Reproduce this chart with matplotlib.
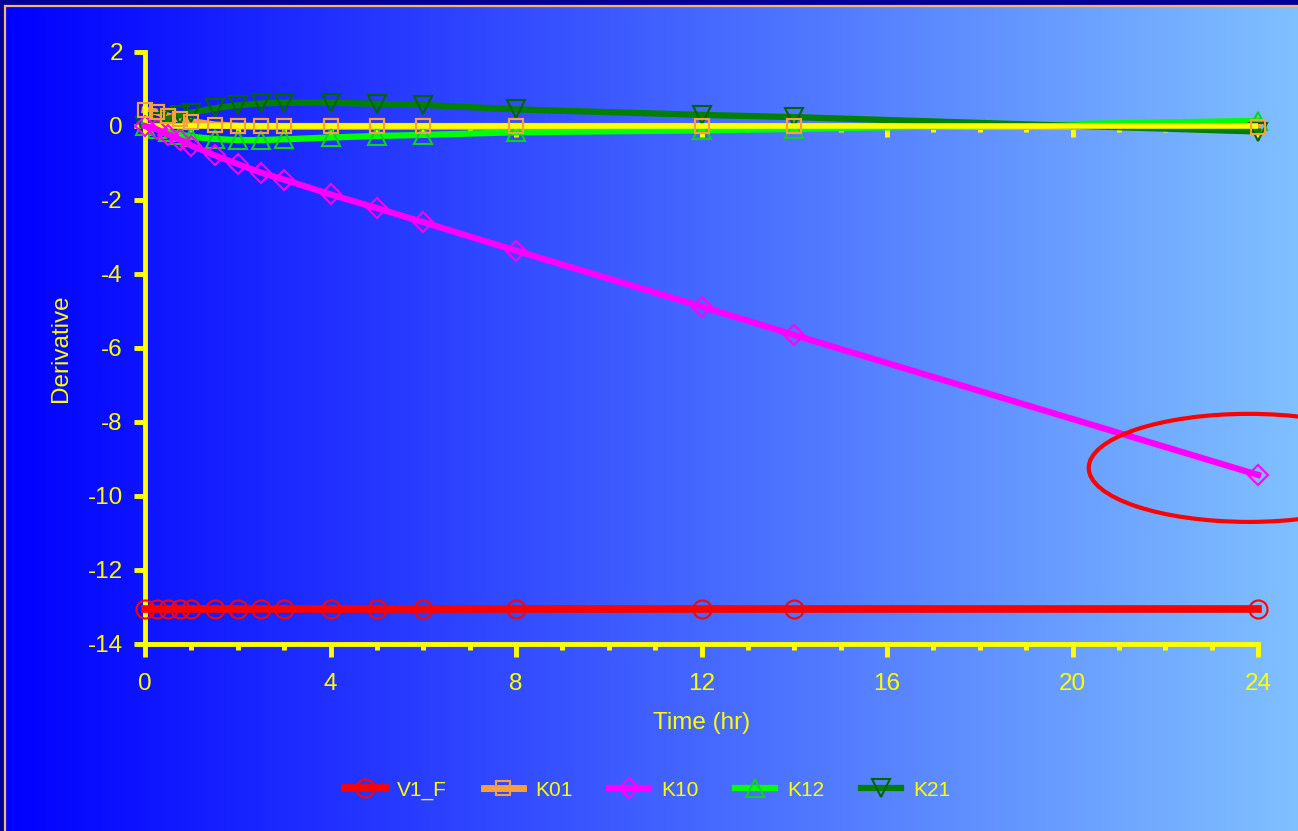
import numpy as np
import matplotlib
matplotlib.use("Agg")
from matplotlib import pyplot as plt
from matplotlib.patches import Ellipse, Rectangle

plt.rcParams['font.family'] = ['Liberation Sans', 'DejaVu Sans']
plt.rcParams['axes.unicode_minus'] = False

# data
time_hr = [0, 0.25, 0.5, 0.75, 1, 1.5, 2, 2.5, 3, 4, 5, 6, 8, 12, 14, 24]
v1_f = [-13.05, -13.05, -13.05, -13.05, -13.05, -13.05, -13.05, -13.05,
        -13.05, -13.05, -13.05, -13.05, -13.05, -13.05, -13.05, -13.05]
k01 = [0.43, 0.38, 0.27, 0.18, 0.12, 0.03, 0.0, -0.01, -0.01, -0.01,
       -0.01, -0.01, -0.01, -0.01, -0.01, -0.02]
k10 = [0, -0.09, -0.23, -0.37, -0.53, -0.79, -1.03, -1.26, -1.45, -1.85,
       -2.22, -2.6, -3.37, -4.88, -5.65, -9.43]
k12 = [0, -0.08, -0.16, -0.23, -0.29, -0.35, -0.38, -0.38, -0.36, -0.31,
       -0.27, -0.24, -0.17, -0.12, -0.08, 0.14]
k21 = [0, 0.1, 0.2, 0.29, 0.36, 0.48, 0.56, 0.61, 0.63, 0.63,
       0.6, 0.57, 0.45, 0.3, 0.24, -0.15]

xticks = [0, 4, 8, 12, 16, 20, 24]
yticks = [2, 0, -2, -4, -6, -8, -10, -12, -14]

W, H = 1298, 831
yellow = '#FFFF00'

fig = plt.figure(figsize=(W / 100, H / 100), dpi=100, facecolor='#000099')

# gradient background
bg = fig.add_axes([5 / W, 0, 1 - 5 / W, 1 - 6 / H])
bg.axis('off')
grad = np.linspace(0, 1, 256)[None, :, None]
c0 = np.array([0, 0, 255]) / 255
c1 = np.array([128, 192, 255]) / 255
img = c0 + (c1 - c0) * grad
bg.imshow(img, aspect='auto', extent=[0, 1, 0, 1])
fig.patches.append(Rectangle((5 / W, -0.01), 1.0, 1 - 6 / H + 0.01,
                             transform=fig.transFigure, fill=False,
                             edgecolor='#F2B872', lw=1.6, zorder=5))

ax = fig.add_axes([145 / W, 1 - 644 / H, (1258 - 145) / W, (644 - 52) / H])
ax.set_facecolor('none')

ax.plot(time_hr, v1_f, color='#FF0000', lw=5.5, marker='o', ms=13,
        mfc='none', mec='#FF0000', mew=1.5, label='V1_F', zorder=3,
        clip_on=False)
ax.plot(time_hr, k01, color='#F7A03C', lw=5, marker='s', ms=10.5,
        mfc='none', mec='#F7A03C', mew=1.5, label='K01', zorder=2,
        clip_on=False)
ax.plot(time_hr, k10, color='#FF00FF', lw=4.5, marker='D', ms=10.5,
        mfc='none', mec='#FF00FF', mew=1.5, label='K10', zorder=3,
        clip_on=False)
ax.plot(time_hr, k12, color='#00FF00', lw=4.5, marker='^', ms=12.5,
        mfc='none', mec='#10D020', mew=1.5, label='K12', zorder=2,
        clip_on=False)
ax.plot(time_hr, k21, color='#008000', lw=4.5, marker='v', ms=12.5,
        mfc='none', mec='#006400', mew=1.5, label='K21', zorder=2,
        clip_on=False)
# K01 squares sit above the zero line
ax.plot(time_hr, k01, ls='none', marker='s', ms=10.5, mfc='none',
        mec='#F7A03C', mew=1.5, zorder=3, clip_on=False)

# zero line with its own ticks
ax.axhline(0, color=yellow, lw=4, zorder=2.5)
sec = ax.secondary_xaxis(14 / 16)
sec.xaxis.set_ticks_position('bottom')
sec.set_xticks(xticks)
sec.set_xticks(range(25), minor=True)
sec.tick_params(which='major', length=8, width=3.5, color=yellow,
                direction='out', labelbottom=False, labeltop=False)
sec.tick_params(which='minor', length=4, width=3.5, color=yellow,
                direction='out')
sec.xaxis.set_ticklabels([])
for s in sec.spines.values():
    s.set_visible(False)

ax.add_patch(Ellipse((23.8, -9.24), 6.9, 2.92, fill=False,
                     edgecolor='#FF0000', lw=3, clip_on=False, zorder=4))

ax.set_xlim(0, 24)
ax.set_ylim(-14, 2)
ax.set_xticks(xticks)
ax.set_xticks(range(25), minor=True)
ax.set_yticks(yticks)
for s in ['top', 'right']:
    ax.spines[s].set_visible(False)
for s in ['left', 'bottom']:
    ax.spines[s].set_color(yellow)
    ax.spines[s].set_linewidth(3.5)
ax.tick_params(axis='x', which='major', length=9, width=3.5, color=yellow,
               labelcolor=yellow, labelsize=17.5, pad=12)
ax.tick_params(axis='x', which='minor', length=4, width=3.5, color=yellow)
ax.tick_params(axis='y', length=8, width=3.5, color=yellow,
               labelcolor=yellow, labelsize=17.5, pad=8)

ax.set_xlabel('Time (hr)', color=yellow, fontsize=17.5, labelpad=12)
ax.set_ylabel('Derivative', color=yellow, fontsize=17.5, labelpad=11)

ax.legend(loc='center', bbox_to_anchor=(0.499, 0.049),
          bbox_transform=fig.transFigure, ncol=5, frameon=False,
          fontsize=15, labelcolor=yellow, handlelength=1.9,
          markerscale=1.0, columnspacing=1.75, handletextpad=0.6)

fig.savefig('out.png', dpi=100, facecolor=fig.get_facecolor())
